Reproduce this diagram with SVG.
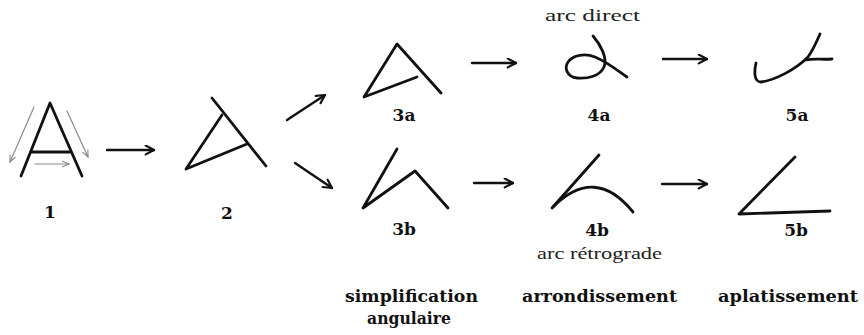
<svg xmlns="http://www.w3.org/2000/svg" width="864" height="335" viewBox="0 0 864 335">
<style>
.s{fill:none;stroke:#111;stroke-width:2.8;stroke-linecap:round;stroke-linejoin:round}
.g{fill:none;stroke:#8a8a8a;stroke-width:1.2;stroke-linecap:round}
.c{fill:none;stroke:#111;stroke-width:2.4;stroke-linecap:round}
.num{font-family:"DejaVu Serif","Liberation Serif",serif;font-weight:bold;font-size:17px;fill:#111;text-anchor:middle}
.cap{font-family:"DejaVu Serif","Liberation Serif",serif;font-weight:bold;font-size:17px;fill:#111}
.note{font-family:"Liberation Serif",serif;font-size:17px;fill:#222}
</style>
<defs>
<marker id="ah" viewBox="0 0 10 10" refX="9" refY="5" markerWidth="11" markerHeight="11" markerUnits="userSpaceOnUse" orient="auto">
<path d="M1.5,1 L9,5 L1.5,9" fill="none" stroke="#111" stroke-width="2" stroke-linecap="round" stroke-linejoin="round"/>
</marker>
<marker id="gh" viewBox="0 0 10 10" refX="9" refY="5" markerWidth="8" markerHeight="8" markerUnits="userSpaceOnUse" orient="auto">
<path d="M1,1.5 L9,5 L1,8.5" fill="none" stroke="#8a8a8a" stroke-width="1.4" stroke-linecap="round"/>
</marker>
</defs>
<rect width="864" height="335" fill="#fff"/>

<g id="n1">
<path class="s" d="M21,176 L50,103 L82,176"/>
<path class="s" d="M31,152 L70,152"/>
<path class="g" d="M34,107 L10,162" marker-end="url(#gh)"/>
<path class="g" d="M67,111 L88,157" marker-end="url(#gh)"/>
<path class="g" d="M35,164 L69,164" marker-end="url(#gh)"/>
<text class="num" x="50" y="218">1</text>
</g>

<g id="n2">
<path class="s" d="M212,98 L266,166"/>
<path class="s" d="M222,115 L186,169 L247,144"/>
<text class="num" x="227" y="219">2</text>
</g>

<g id="n3a">
<path class="s" d="M441,93 L397,44 L364,97 L417,77"/>
<text class="num" x="404" y="121">3a</text>
</g>

<g id="n4a">
<path class="s" d="M593,36 C600,44 608,58 604,67 C600,76 588,79 577,78 C567,77 564,68 568,62 C573,55 585,53 595,57 C607,62 617,70 627,77"/>
<text class="note" x="545" y="21" textLength="95" lengthAdjust="spacingAndGlyphs">arc direct</text>
<text class="num" x="599" y="121">4a</text>
</g>

<g id="n5a">
<path class="s" d="M756,63 C754,72 754,82 761,82 C775,80 795,70 808,57 C813,50 817,41 820,34"/>
<path class="s" d="M806,60 C814,58 822,60 832,59"/>
<text class="num" x="797" y="121">5a</text>
</g>

<g id="n3b">
<path class="s" d="M397,149 L363,208 L415,171 L448,208"/>
<text class="num" x="404" y="235">3b</text>
</g>

<g id="n4b">
<path class="s" d="M599,155 L552,208"/>
<path class="s" d="M553,207 Q595,165 633,212"/>
<text class="num" x="597" y="236">4b</text>
<text class="note" x="537" y="259" textLength="125" lengthAdjust="spacingAndGlyphs">arc rétrograde</text>
</g>

<g id="n5b">
<path class="s" d="M795,157 L739,214 L830,211"/>
<text class="num" x="796" y="236">5b</text>
</g>

<g id="connectors">
<path class="c" d="M107,150 L154,150" marker-end="url(#ah)"/>
<path class="c" d="M287,120 L325,95" marker-end="url(#ah)"/>
<path class="c" d="M295,163 L332,188" marker-end="url(#ah)"/>
<path class="c" d="M472,63 L516,63" marker-end="url(#ah)"/>
<path class="c" d="M663,59 L707,59" marker-end="url(#ah)"/>
<path class="c" d="M474,183 L513,183" marker-end="url(#ah)"/>
<path class="c" d="M662,184 L707,184" marker-end="url(#ah)"/>
</g>

<g id="categories">
<text class="cap" x="345" y="302" textLength="133" lengthAdjust="spacingAndGlyphs">simplification</text>
<text class="cap" x="367" y="324" textLength="84" lengthAdjust="spacingAndGlyphs">angulaire</text>
<text class="cap" x="522" y="302" textLength="155" lengthAdjust="spacingAndGlyphs">arrondissement</text>
<text class="cap" x="718" y="302" textLength="140" lengthAdjust="spacingAndGlyphs">aplatissement</text>
</g>
</svg>
